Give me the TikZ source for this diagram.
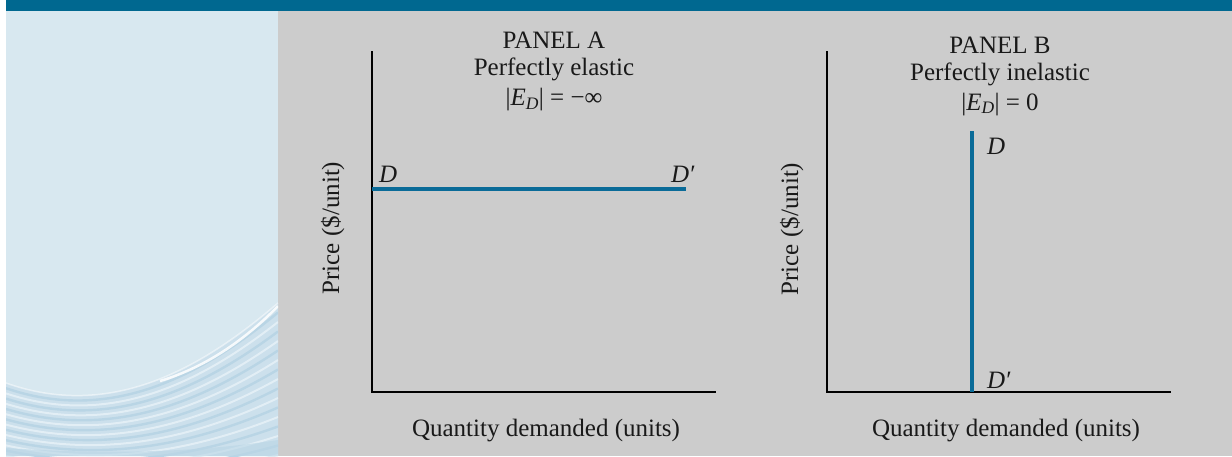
\documentclass[tikz,border=0pt]{standalone}
\usepackage{fontspec}
\setmainfont{Liberation Serif}
\definecolor{topbar}{HTML}{006890}
\definecolor{bggray}{HTML}{CCCCCC}
\definecolor{panelblue}{HTML}{D8E8F0}
\definecolor{wavebase}{HTML}{CCE0EC}
\definecolor{wavedark}{HTML}{B9D5E5}
\definecolor{wavelight}{HTML}{E2EEF5}
\definecolor{curveblue}{HTML}{0A6B98}
\begin{document}
\begin{tikzpicture}[x=1pt,y=-1pt,
  lbl/.style={font=\fontsize{25}{30}\selectfont, inner sep=0pt, text=black!90},
  axisline/.style={draw=black, line width=1.8pt},
  demand/.style={draw=curveblue, line width=3.5pt}]
\useasboundingbox (0,0) rectangle (1232,456);
\fill[white] (0,0) rectangle (1232,456);
\fill[topbar] (6,0) rectangle (1232,11);
\fill[bggray] (278,11) rectangle (1232,456);
\fill[panelblue] (6,11) rectangle (278,456);
% decorative waves
\begin{scope}
  \clip (6,11) rectangle (278,456);
  \fill[wavebase] (6,383) .. controls (110,420) and (200,370) .. (278,303) -- (278,456) -- (6,456) -- cycle;
  \foreach \k in {1,...,16}{
    \pgfmathsetmacro\ya{383+5.2*\k}
    \pgfmathsetmacro\yb{420+4*\k}
    \pgfmathsetmacro\yc{370+6.5*\k}
    \pgfmathsetmacro\yd{303+9.5*\k}
    \ifodd\k
      \draw[wavedark, line width=2.4pt] (6,\ya) .. controls (110,\yb) and (200,\yc) .. (278,\yd);
    \else
      \draw[wavelight, line width=2pt] (6,\ya) .. controls (110,\yb) and (200,\yc) .. (278,\yd);
    \fi
  }
  \fill[wavedark, opacity=0.6] (6,448) .. controls (110,455) and (200,452) .. (278,440) -- (278,456) -- (6,456) -- cycle;
  \draw[white, opacity=0.5, line width=1.5pt] (6,383) .. controls (110,420) and (200,370) .. (278,303);
  \draw[white, opacity=0.85, line width=2.5pt] (160,381) .. controls (210,366) and (250,335) .. (278,306);
\end{scope}
% Panel A
\coordinate (Atop) at (372,51);
\coordinate (Ao) at (372,392);
\coordinate (Aright) at (716,392);
\draw[axisline] (Atop) -- (Ao) -- (Aright);
\coordinate (AD1) at (372,189);
\coordinate (AD2) at (686,189);
\draw[demand] (AD1) -- (AD2);
\node[lbl, anchor=base] (tA1) at (554,48.5) {PANEL A};
\node[lbl, anchor=base] (tA2) at (554,75.5) {Perfectly elastic};
\node[lbl, anchor=base] (tA3) at (554,105.5) {|\textit{E}\textsubscript{\textit{D}}| = −∞};
\node[lbl, anchor=base west] (lAD) at (379,182) {\textit{D}};
\node[lbl, anchor=base west] (lADp) at (671,182) {\textit{D}\kern1pt′};
\node[lbl, anchor=base, rotate=90] (yA) at (339,228) {Price (\$/unit)};
\node[lbl, anchor=base] (xA) at (546,436) {Quantity demanded (units)};
% Panel B
\coordinate (Btop) at (827,51);
\coordinate (Bo) at (827,392);
\coordinate (Bright) at (1171,392);
\draw[axisline] (Btop) -- (Bo) -- (Bright);
\coordinate (BD1) at (972,131);
\coordinate (BD2) at (972,392);
\draw[demand] (BD1) -- (BD2);
\node[lbl, anchor=base] (tB1) at (1000,53) {PANEL B};
\node[lbl, anchor=base] (tB2) at (1000,80) {Perfectly inelastic};
\node[lbl, anchor=base] (tB3) at (1000,110) {|\textit{E}\textsubscript{\textit{D}}| = 0};
\node[lbl, anchor=base west] (lBD) at (987,154) {\textit{D}};
\node[lbl, anchor=base west] (lBDp) at (987,388) {\textit{D}\kern1pt′};
\node[lbl, anchor=base, rotate=90] (yB) at (798,229) {Price (\$/unit)};
\node[lbl, anchor=base] (xB) at (1006,436) {Quantity demanded (units)};
\end{tikzpicture}
\end{document}
